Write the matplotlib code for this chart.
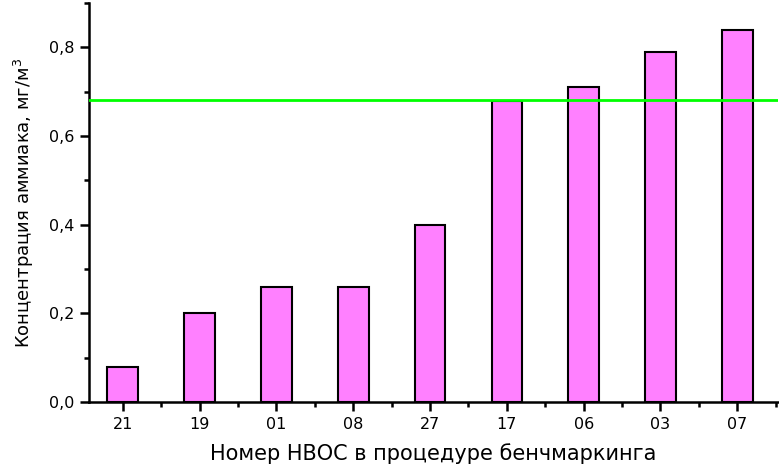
import matplotlib.pyplot as plt
import matplotlib.ticker as ticker

plt.rcParams['font.family'] = ['DejaVu Sans']

categories = ['21', '19', '01', '08', '27', '17', '06', '03', '07']
values = [0.08, 0.20, 0.26, 0.26, 0.40, 0.68, 0.71, 0.79, 0.84]
threshold = 0.682

fig = plt.figure(figsize=(7.79, 4.66), dpi=100)
ax = fig.add_axes([0.1143, 0.1373, 0.8844, 0.8563])

x = range(len(categories))
ax.bar(x, values, width=0.4, color='#FF80FF', edgecolor='black', linewidth=1.5, zorder=2)
ax.axhline(threshold, color='#00FF00', linewidth=2, zorder=3)

ax.set_xlim(-0.44, 8.53)
ax.set_ylim(0, 0.9)
ax.set_xticks(list(x))
ax.set_xticklabels(categories)
ax.xaxis.set_minor_locator(ticker.FixedLocator([i + 0.5 for i in range(-1, 9)]))
ax.yaxis.set_major_locator(ticker.MultipleLocator(0.2))
ax.yaxis.set_minor_locator(ticker.MultipleLocator(0.1))
ax.yaxis.set_major_formatter(ticker.FuncFormatter(lambda v, p: f'{v:.1f}'.replace('.', ',')))

for s in ['top', 'right']:
    ax.spines[s].set_visible(False)
for s in ['left', 'bottom']:
    ax.spines[s].set_linewidth(1.8)

ax.tick_params(which='major', direction='out', length=6.5, width=1.8, labelsize=11.5, pad=4)
ax.tick_params(which='minor', direction='out', length=3.5, width=1.8)

ax.set_xlabel('Номер НВОС в процедуре бенчмаркинга', fontsize=15, labelpad=8)
ax.set_ylabel('Концентрация аммиака, мг/м$^3$', fontsize=13, labelpad=9)

fig.savefig('out.png', dpi=100)
